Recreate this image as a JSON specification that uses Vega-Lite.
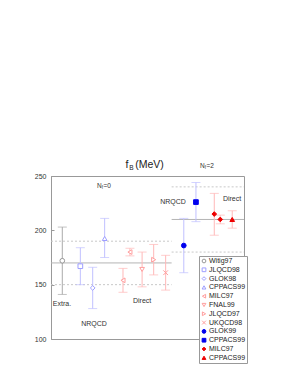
{
  "$schema": "https://vega.github.io/schema/vega-lite/v6.json",
  "width": 193,
  "height": 163,
  "autosize": {"type": "none"},
  "padding": {"left": 51, "top": 176, "right": 51, "bottom": 43},
  "background": "white",
  "config": {
    "view": {"stroke": "#999999", "strokeWidth": 1},
    "font": "Liberation Sans"
  },
  "datasets": {
    "pts": [
      {"series": "Witig97", "grp": "g", "x": 5.85, "y": 172, "lo": 141, "hi": 203},
      {"series": "JLQCD98", "grp": "lb", "x": 15.2, "y": 167, "lo": 150, "hi": 184},
      {"series": "GLOK98", "grp": "lb", "x": 21.6, "y": 147, "lo": 128, "hi": 166},
      {"series": "CPPACS99", "grp": "lb", "x": 27.8, "y": 192.5, "lo": 175, "hi": 211},
      {"series": "MILC97", "grp": "lr", "x": 37.3, "y": 154, "lo": 143, "hi": 165},
      {"series": "MILC97", "grp": "lr", "x": 40.9, "y": 180, "lo": 176.5, "hi": 183.5},
      {"series": "FNAL99", "grp": "lr", "x": 47.2, "y": 164, "lo": 148, "hi": 180},
      {"series": "JLQCD97", "grp": "lr", "x": 53.2, "y": 173, "lo": 159, "hi": 187},
      {"series": "UKQCD98", "grp": "lr", "x": 59.4, "y": 161, "lo": 145, "hi": 177},
      {"series": "GLOK99", "grp": "b", "x": 68.8, "y": 186, "lo": 161, "hi": 211},
      {"series": "CPPACS99|b", "grp": "b", "x": 75.1, "y": 226, "lo": 208, "hi": 244},
      {"series": "MILC97|b", "grp": "r", "x": 84.6, "y": 215, "lo": 195.5, "hi": 234},
      {"series": "MILC97|b", "grp": "r", "x": 87.7, "y": 210, "lo": 206, "hi": 214},
      {"series": "CPPACS99|c", "grp": "r", "x": 93.9, "y": 210, "lo": 202, "hi": 218}
    ],
    "dashed": [
      {"x1": 0, "x2": 62.5, "y": 190},
      {"x1": 0, "x2": 62.5, "y": 150},
      {"x1": 62.5, "x2": 100, "y": 240},
      {"x1": 62.5, "x2": 100, "y": 180}
    ],
    "solid": [
      {"x1": 0, "x2": 62.5, "y": 170},
      {"x1": 62.5, "x2": 100, "y": 210}
    ],
    "notes": [
      {"label": "Extra.", "x": 5.7, "y": 132},
      {"label": "Direct", "x": 47.2, "y": 134.8},
      {"label": "NRQCD", "x": 22.3, "y": 113.6},
      {"label": "NRQCD", "x": 63.2, "y": 226},
      {"label": "Direct", "x": 93.8, "y": 228.8}
    ],
    "titleMain": [
      {"label": "f", "x": 38.6, "y": 260.1},
      {"label": "(MeV)", "x": 43.6, "y": 260.1}
    ],
    "titleSub": [
      {"label": "B", "x": 40.6, "y": 257.3}
    ],
    "nfMain": [
      {"label": "N", "x": 23.8, "y": 240.8},
      {"label": "=0", "x": 27.2, "y": 240.8},
      {"label": "N", "x": 77.2, "y": 259.2},
      {"label": "=2", "x": 80.6, "y": 259.2}
    ],
    "nfSub": [
      {"label": "f", "x": 26.3, "y": 239.0},
      {"label": "f", "x": 79.7, "y": 257.4}
    ]
  },
  "layer": [
    {
      "data": {"name": "dashed"},
      "mark": {"type": "rule", "color": "#c8c8c8", "strokeDash": [2, 2], "strokeWidth": 1},
      "encoding": {
        "x": {"field": "x1", "type": "quantitative", "scale": {"domain": [0, 100], "nice": false, "zero": false}, "axis": null},
        "x2": {"field": "x2"},
        "y": {"field": "y", "type": "quantitative", "scale": {"domain": [100, 250], "nice": false, "zero": false},
          "axis": {
            "values": [100, 125, 150, 175, 200, 225, 250],
            "labelExpr": "datum.value % 50 == 0 ? datum.label : ''",
            "grid": false, "title": null,
            "domainColor": "#999999", "tickColor": "#999999",
            "tickSize": -3, "labelPadding": 8,
            "labelFontSize": 7, "labelColor": "#333333", "labelFont": "Liberation Sans"
          }}
      }
    },
    {
      "data": {"name": "solid"},
      "mark": {"type": "rule", "color": "#b4b4b4", "strokeWidth": 1},
      "encoding": {
        "x": {"field": "x1", "type": "quantitative"},
        "x2": {"field": "x2"},
        "y": {"field": "y", "type": "quantitative"}
      }
    },
    {
      "data": {"name": "pts"},
      "mark": {"type": "rule", "strokeWidth": 1},
      "encoding": {
        "x": {"field": "x", "type": "quantitative"},
        "y": {"field": "lo", "type": "quantitative"},
        "y2": {"field": "hi"},
        "color": {"field": "grp", "type": "nominal", "legend": null,
          "scale": {"domain": ["g", "lb", "lr", "b", "r"], "range": ["#aaaaaa", "#c0c0ff", "#ffb8b8", "#c0c0ff", "#ffb8b8"]}}
      }
    },
    {
      "data": {"name": "pts"},
      "mark": {"type": "tick", "orient": "horizontal", "size": 9, "thickness": 1},
      "encoding": {
        "x": {"field": "x", "type": "quantitative"},
        "y": {"field": "lo", "type": "quantitative"},
        "color": {"field": "grp", "type": "nominal", "legend": null}
      }
    },
    {
      "data": {"name": "pts"},
      "mark": {"type": "tick", "orient": "horizontal", "size": 9, "thickness": 1},
      "encoding": {
        "x": {"field": "x", "type": "quantitative"},
        "y": {"field": "hi", "type": "quantitative"},
        "color": {"field": "grp", "type": "nominal", "legend": null}
      }
    },
    {
      "data": {"name": "pts"},
      "mark": {"type": "point", "filled": false, "strokeWidth": 1, "opacity": 1, "size": 22},
      "encoding": {
        "x": {"field": "x", "type": "quantitative"},
        "y": {"field": "y", "type": "quantitative"},
        "shape": {"field": "series", "type": "nominal", "title": null,
          "scale": {"domain": ["Witig97", "JLQCD98", "GLOK98", "CPPACS99", "MILC97", "FNAL99", "JLQCD97", "UKQCD98", "GLOK99", "CPPACS99|b", "MILC97|b", "CPPACS99|c"],
            "range": ["circle", "square", "diamond", "triangle-up", "triangle-left", "triangle-down", "triangle-right", "M-1,-1L1,1M-1,1L1,-1", "circle", "square", "diamond", "triangle-up"]},
          "legend": {
            "orient": "none", "legendX": 148, "legendY": 80,
            "labelExpr": "split(datum.label, '|')[0]",
            "strokeColor": "#999999", "fillColor": "white", "padding": 1.5,
            "rowPadding": -0.2, "symbolSize": 14, "symbolStrokeWidth": 1,
            "labelFontSize": 7, "labelFont": "Liberation Sans", "labelColor": "#222222",
            "labelOffset": 1.5, "symbolOffset": 0
          }},
        "stroke": {"field": "series", "type": "nominal", "title": null,
          "scale": {"domain": ["Witig97", "JLQCD98", "GLOK98", "CPPACS99", "MILC97", "FNAL99", "JLQCD97", "UKQCD98", "GLOK99", "CPPACS99|b", "MILC97|b", "CPPACS99|c"],
            "range": ["#999999", "#9e9eff", "#9e9eff", "#9e9eff", "#ff9e9e", "#ff9e9e", "#ff9e9e", "#ff9e9e", "#0000ee", "#0000ee", "#ee0000", "#ee0000"]}},
        "fill": {"field": "series", "type": "nominal", "title": null,
          "scale": {"domain": ["Witig97", "JLQCD98", "GLOK98", "CPPACS99", "MILC97", "FNAL99", "JLQCD97", "UKQCD98", "GLOK99", "CPPACS99|b", "MILC97|b", "CPPACS99|c"],
            "range": ["white", "white", "white", "white", "white", "white", "white", "white", "#0000ee", "#0000ee", "#ee0000", "#ee0000"]}}
      }
    },
    {
      "data": {"name": "notes"},
      "mark": {"type": "text", "fontSize": 7, "color": "#333333", "font": "Liberation Sans", "baseline": "middle", "align": "center"},
      "encoding": {
        "x": {"field": "x", "type": "quantitative"},
        "y": {"field": "y", "type": "quantitative"},
        "text": {"field": "label"}
      }
    },
    {
      "data": {"name": "titleMain"},
      "mark": {"type": "text", "fontSize": 10.5, "color": "#222222", "font": "Liberation Sans", "baseline": "middle", "align": "left"},
      "encoding": {"x": {"field": "x", "type": "quantitative"}, "y": {"field": "y", "type": "quantitative"}, "text": {"field": "label"}}
    },
    {
      "data": {"name": "titleSub"},
      "mark": {"type": "text", "fontSize": 6.5, "color": "#222222", "font": "Liberation Sans", "baseline": "middle", "align": "left"},
      "encoding": {"x": {"field": "x", "type": "quantitative"}, "y": {"field": "y", "type": "quantitative"}, "text": {"field": "label"}}
    },
    {
      "data": {"name": "nfMain"},
      "mark": {"type": "text", "fontSize": 6.5, "color": "#333333", "font": "Liberation Sans", "baseline": "middle", "align": "left"},
      "encoding": {"x": {"field": "x", "type": "quantitative"}, "y": {"field": "y", "type": "quantitative"}, "text": {"field": "label"}}
    },
    {
      "data": {"name": "nfSub"},
      "mark": {"type": "text", "fontSize": 4.5, "color": "#333333", "font": "Liberation Sans", "baseline": "middle", "align": "left"},
      "encoding": {"x": {"field": "x", "type": "quantitative"}, "y": {"field": "y", "type": "quantitative"}, "text": {"field": "label"}}
    }
  ]
}
